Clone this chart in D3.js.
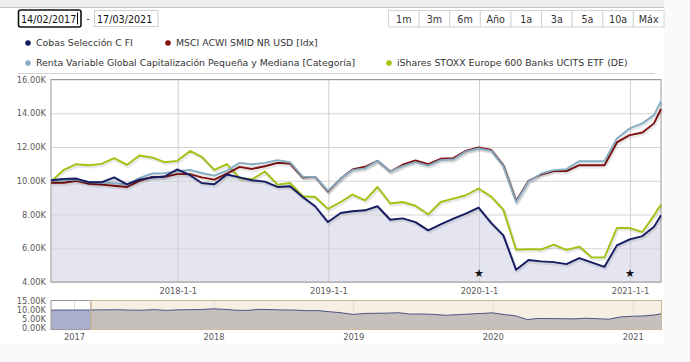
<!DOCTYPE html>
<html><head><meta charset="utf-8">
<script src="https://cdn.jsdelivr.net/npm/d3@7"></script>
<style>
html,body{margin:0;padding:0;background:#fafafa;}
svg{display:block;font-family:"DejaVu Sans",Verdana,sans-serif;}
</style></head><body>
<svg id="c" width="690" height="362"></svg>
<script>
// ---------- data (values in thousands) ----------
const dates = ["2017-02-28","2017-03-31","2017-04-30","2017-05-31","2017-06-30","2017-07-31","2017-08-31","2017-09-30","2017-10-31","2017-11-30","2017-12-31","2018-01-31","2018-02-28","2018-03-31","2018-04-30","2018-05-31","2018-06-30","2018-07-31","2018-08-31","2018-09-30","2018-10-31","2018-11-30","2018-12-31","2019-01-31","2019-02-28","2019-03-31","2019-04-30","2019-05-31","2019-06-30","2019-07-31","2019-08-31","2019-09-30","2019-10-31","2019-11-30","2019-12-31","2020-01-31","2020-02-29","2020-03-31","2020-04-30","2020-05-31","2020-06-30","2020-07-31","2020-08-31","2020-09-30","2020-10-31","2020-11-30","2020-12-31","2021-01-31","2021-02-28","2021-03-17"];
const cobas = [10.03,10.11,10.13,9.91,9.91,10.2,9.79,10.07,10.19,10.25,10.67,10.33,9.87,9.79,10.37,10.2,10.03,9.95,9.63,9.67,9.04,8.49,7.55,8.09,8.19,8.25,8.49,7.69,7.77,7.55,7.06,7.42,7.75,8.05,8.41,7.49,6.76,4.72,5.3,5.22,5.18,5.06,5.42,5.16,4.9,6.17,6.53,6.72,7.28,7.95];
const msci = [9.88,9.88,9.99,9.82,9.77,9.7,9.63,9.99,10.23,10.23,10.39,10.39,10.2,10.07,10.42,10.82,10.7,10.86,11.06,11.02,10.19,10.23,9.36,10.13,10.67,10.83,11.18,10.55,10.95,11.2,10.98,11.3,11.34,11.77,11.97,11.82,10.92,8.8,10.0,10.37,10.57,10.57,10.92,10.92,10.92,12.27,12.7,12.86,13.4,14.25];
const renta = [9.99,10.03,10.07,9.91,9.9,9.86,9.78,10.15,10.43,10.45,10.57,10.64,10.46,10.3,10.6,11.06,10.98,11.06,11.22,11.1,10.23,10.23,9.4,10.13,10.63,10.73,11.18,10.55,10.87,11.1,10.9,11.22,11.26,11.73,11.91,11.77,10.86,8.74,9.95,10.43,10.63,10.69,11.16,11.16,11.16,12.51,13.1,13.4,13.89,14.72];
const ishares = [9.95,10.65,10.98,10.92,11.0,11.34,10.94,11.5,11.38,11.1,11.18,11.77,11.42,10.64,10.98,10.15,10.09,10.55,9.77,9.87,9.08,9.04,8.33,8.74,9.18,8.84,9.63,8.65,8.74,8.52,8.01,8.74,8.94,9.14,9.54,9.05,8.29,5.91,5.95,5.93,6.21,5.9,6.1,5.46,5.46,7.2,7.2,6.96,7.95,8.59];
const navPreDates = ["2016-11-02","2016-11-30","2016-12-31","2017-01-31"];
const navPreValues = [9.9,10.0,9.95,10.0];
const seriesNames = ["Cobas Selección C FI","MSCI ACWI SMID NR USD [Idx]","Renta Variable Global Capitalización Pequeña y Mediana [Categoría]","iShares STOXX Europe 600 Banks UCITS ETF (DE)"];
const yTicks = [4,6,8,10,12,14,16];
const xTicks = ["2018-01-01","2019-01-01","2020-01-01","2021-01-01"];
const navYTicks = [0,5,10,15];
const navXTicks = ["2017-01-01","2018-01-01","2019-01-01","2020-01-01","2021-01-01"];
const starDates = ["2020-01-01","2021-01-01"];
const buttons = ["1m","3m","6m","Año","1a","3a","5a","10a","Máx"];
const dateFrom = "14/02/2017", dateTo = "17/03/2021";
const rangeStart = "2016-11-02", rangeEnd = "2021-03-17", selStart = "2017-02-14";

// ---------- setup ----------
const P = d3.timeParse("%Y-%m-%d");
const colors = ["#141c62","#800f0f","#86adc3","#a2c212"];
const svg = d3.select("#c");
svg.append("rect").attr("width",690).attr("height",362).attr("fill","#fafafa");
svg.append("rect").attr("width",664).attr("height",344).attr("fill","#fff");
svg.append("rect").attr("width",664).attr("height",7).attr("fill","#eeeeee");
svg.append("line").attr("x1",0).attr("x2",664).attr("y1",7.5).attr("y2",7.5).attr("stroke","#c8c8c8");

// date inputs
svg.append("rect").attr("x",18.5).attr("y",10).attr("width",62.5).attr("height",17).attr("rx",2)
  .attr("fill","#fff").attr("stroke","#111").attr("stroke-width",1.6);
svg.append("text").attr("x",21).attr("y",22.5).attr("font-size",9.6).attr("fill","#111").text(dateFrom);
svg.append("line").attr("x1",77.5).attr("x2",77.5).attr("y1",12.5).attr("y2",24.5).attr("stroke","#000");
svg.append("text").attr("x",88).attr("y",22).attr("font-size",9.6).attr("fill","#333").attr("text-anchor","middle").text("-");
svg.append("rect").attr("x",94.5).attr("y",10.5).attr("width",63.5).attr("height",16).attr("fill","#fff").attr("stroke","#cfcfcf");
svg.append("text").attr("x",97).attr("y",22.5).attr("font-size",9.6).attr("fill","#111").text(dateTo);

// range buttons
const bx = d3.scaleBand().domain(buttons).range([388.5,664]);
const bg = svg.append("g");
bg.selectAll("rect").data(buttons).join("rect")
  .attr("x",d=>bx(d)).attr("y",10.5).attr("width",bx.bandwidth()).attr("height",16.5)
  .attr("fill","#fff").attr("stroke","#d4d4d4");
bg.selectAll("text").data(buttons).join("text")
  .attr("x",d=>bx(d)+bx.bandwidth()/2).attr("y",22.5).attr("text-anchor","middle")
  .attr("font-size",9.6).attr("fill","#333").text(d=>d);

// legend
const legPos = [[28,43],[168,43],[28,63],[389,63]];
const lg = svg.append("g");
seriesNames.forEach((n,i)=>{
  lg.append("circle").attr("cx",legPos[i][0]).attr("cy",legPos[i][1]).attr("r",2.8).attr("fill",colors[i]);
  lg.append("text").attr("x",legPos[i][0]+8).attr("y",legPos[i][1]+3.4).attr("font-size",9.35).attr("fill","#333").text(n);
});
svg.append("line").attr("x1",18).attr("x2",655).attr("y1",73.5).attr("y2",73.5).attr("stroke","#d2d2d2");

// ---------- main plot ----------
const L=51, R=661, T=79.5, B=282;
const x = d3.scaleTime().domain([P(dates[0]),P(dates[dates.length-1])]).range([L,R]);
const y = d3.scaleLinear().domain([4,16]).range([B,T]);
const dd = dates.map(P);
const ser = [cobas,msci,renta,ishares].map(a=>a.map((v,i)=>({date:dd[i],v})));

// area under Cobas
svg.append("path").datum(ser[0])
  .attr("d",d3.area().x(d=>x(d.date)).y0(B).y1(d=>y(d.v)))
  .attr("fill","rgba(30,45,130,0.12)");

// grid / axes
const ya = svg.append("g").attr("transform",`translate(${L},0)`)
  .call(d3.axisLeft(y).tickValues(yTicks).tickSize(-(R-L)).tickPadding(5).tickFormat(d=>d3.format(".2f")(d)+"K"));
ya.select(".domain").remove();
ya.selectAll("line").attr("stroke","#d6d6d6");
ya.selectAll("text").attr("font-size",8.3).attr("fill","#5a5a5a").attr("font-family","DejaVu Sans");

const xa = svg.append("g").attr("transform",`translate(0,${B})`)
  .call(d3.axisBottom(x).tickValues(xTicks.map(P)).tickSize(-(B-T)).tickPadding(6).tickFormat(d3.timeFormat("%Y-%-m-%-d")));
xa.select(".domain").remove();
xa.selectAll("line").attr("stroke","#cfcfcf");
xa.selectAll("text").attr("font-size",8.3).attr("fill","#5a5a5a").attr("font-family","DejaVu Sans");

svg.append("rect").attr("x",L).attr("y",T).attr("width",R-L).attr("height",B-T)
  .attr("fill","none").attr("stroke","#9a9a9a");

// lines
const line = d3.line().x(d=>x(d.date)).y(d=>y(d.v));
const drawOrder = [3,1,2,0];
drawOrder.forEach(i=>{
  svg.append("path").datum(ser[i]).attr("d",line).attr("fill","none")
    .attr("stroke","rgba(0,0,0,0.09)").attr("stroke-width",3.5).attr("transform","translate(1,1.5)")
    .attr("stroke-linejoin","round");
  svg.append("path").datum(ser[i]).attr("d",line).attr("fill","none")
    .attr("stroke",colors[i]).attr("stroke-width",1.9).attr("stroke-linejoin","round");
});

// stars
svg.append("g").selectAll("text").data(starDates).join("text")
  .attr("x",d=>x(P(d))).attr("y",277).attr("text-anchor","middle")
  .attr("font-size",11).attr("fill","#111").text("★");

// ---------- navigator ----------
const NT=300.5, NB=329.5;
const xn = d3.scaleTime().domain([P(rangeStart),P(rangeEnd)]).range([L,661.5]);
const yn = d3.scaleLinear().domain([0,15]).range([328,301]);
const navData = navPreDates.map((d,i)=>({date:P(d),v:navPreValues[i]}))
  .concat(ser[0]);
const selX = xn(P(selStart));
const defs = svg.append("defs");
defs.append("clipPath").attr("id","selc").append("rect").attr("x",L).attr("y",NT).attr("width",selX-L).attr("height",NB-NT);
defs.append("clipPath").attr("id","maskc").append("rect").attr("x",selX).attr("y",NT).attr("width",661.5-selX).attr("height",NB-NT);

svg.append("rect").attr("x",L).attr("y",NT).attr("width",selX-L).attr("height",NB-NT).attr("fill","#fff");
svg.append("rect").attr("x",selX).attr("y",NT).attr("width",661.5-selX).attr("height",NB-NT).attr("fill","#f7efe2");

// nav grid
const nyg = svg.append("g").attr("transform",`translate(${L},0)`)
  .call(d3.axisLeft(yn).tickValues(navYTicks).tickSize(0).tickPadding(5).tickFormat(d=>d3.format(".2f")(d)+"K"));
nyg.select(".domain").remove();
nyg.selectAll("text").attr("font-size",8.3).attr("fill","#5a5a5a").attr("font-family","DejaVu Sans");

const nxg = svg.append("g").attr("transform",`translate(0,${NB})`)
  .call(d3.axisBottom(xn).tickValues(navXTicks.map(P)).tickSize(-(NB-NT)).tickPadding(5).tickFormat(d3.timeFormat("%Y")));
nxg.select(".domain").remove();
nxg.selectAll("line").attr("stroke","#dcdcdc");
nxg.selectAll("text").attr("font-size",8.3).attr("fill","#5a5a5a").attr("font-family","DejaVu Sans");

const narea = d3.area().x(d=>xn(d.date)).y0(NB).y1(d=>yn(d.v));
const nline = d3.line().x(d=>xn(d.date)).y(d=>yn(d.v));
svg.append("path").datum(navData).attr("d",narea).attr("fill","#a8b0cd").attr("clip-path","url(#selc)");
svg.append("path").datum(navData).attr("d",narea).attr("fill","#c5bfbd").attr("clip-path","url(#maskc)");
svg.append("path").datum(navData).attr("d",nline).attr("fill","none").attr("stroke","#4b5384").attr("stroke-width",1);

svg.append("rect").attr("x",L).attr("y",NT).attr("width",selX-L).attr("height",NB-NT)
  .attr("fill","none").attr("stroke","#9a9a9a");
svg.append("rect").attr("x",selX).attr("y",NT).attr("width",661.5-selX).attr("height",NB-NT)
  .attr("fill","none").attr("stroke","#cdb996");
</script></body></html>
